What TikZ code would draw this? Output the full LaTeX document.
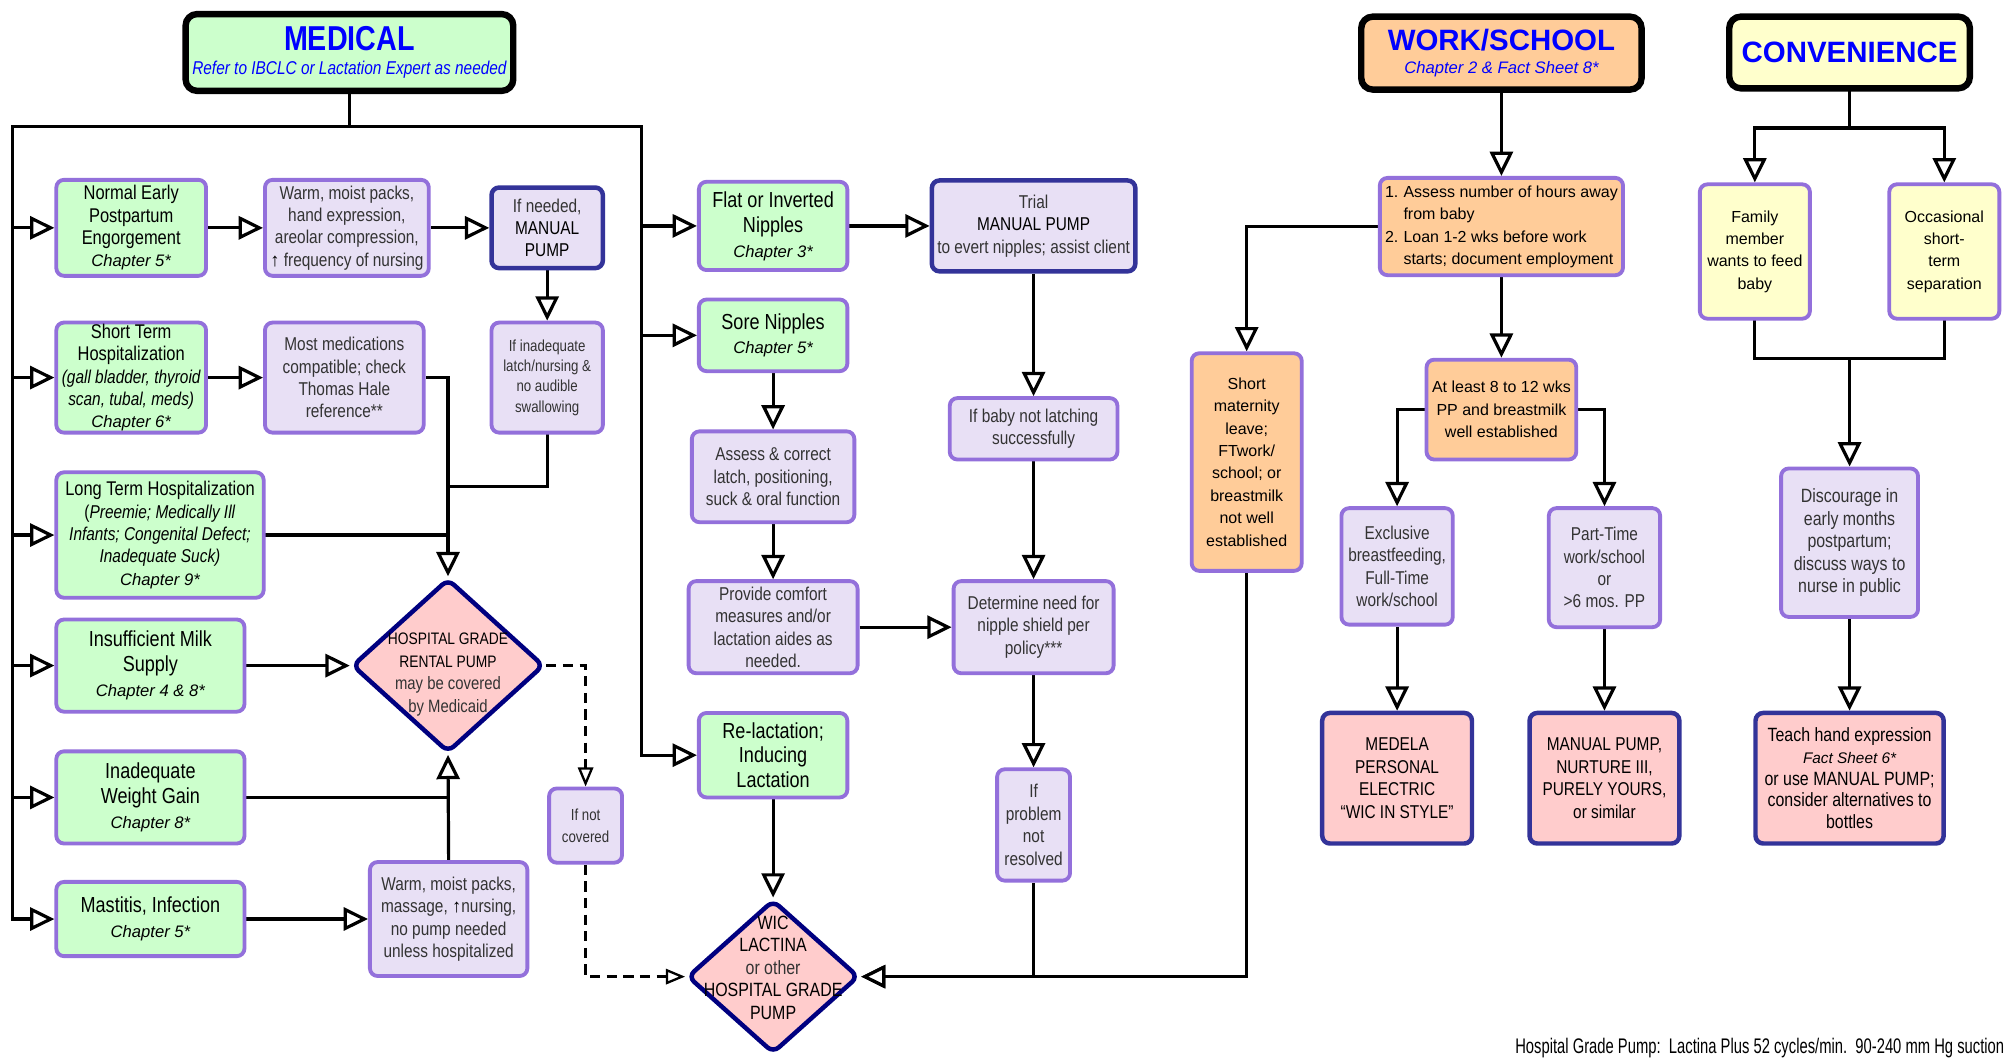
\documentclass[tikz,border=0pt]{standalone}
\usepackage{fontspec}
\setmainfont{Liberation Sans}
\newfontfamily\nar[FakeStretch=0.83]{Liberation Sans}
\newfontfamily\foot[FakeStretch=0.7]{Liberation Sans}
\usetikzlibrary{arrows.meta,shapes.geometric,backgrounds}
\definecolor{grn}{HTML}{CCFFCC}
\definecolor{lav}{HTML}{E8E0F5}
\definecolor{purp}{HTML}{9370DB}
\definecolor{navyb}{HTML}{333399}
\definecolor{dnavy}{HTML}{000080}
\definecolor{pnk}{HTML}{FFCCCC}
\definecolor{peach}{HTML}{FFCC99}
\definecolor{yel}{HTML}{FFFFCC}
\definecolor{txtg}{HTML}{333333}
\definecolor{hblue}{HTML}{0000FF}
\newcommand\chap[1]{{\rmfamily\itshape\fontsize{13}{15}\selectfont #1}}
\tikzset{
  sz/.style 2 args={minimum width=#1pt, minimum height=#2pt},
  box/.style={draw=purp, line width=3pt, rounded corners=6pt, align=center, inner sep=1pt,
    font=\nar\fontsize{14.5}{17.5}\selectfont},
  gbox/.style={box, fill=grn, text=black, font=\nar\fontsize{15.5}{17.5}\selectfont},
  bigg/.style={font=\nar\fontsize{17}{19.5}\selectfont},
  lbox/.style={box, fill=lav, text=txtg},
  nbox/.style={box, draw=navyb, line width=3.5pt, fill=lav, text=txtg},
  rbox/.style={box, draw=navyb, line width=3.5pt, fill=pnk, text=black},
  pbox/.style={box, fill=peach, text=black, font=\rmfamily\fontsize{12.5}{17.5}\selectfont},
  ybox/.style={box, fill=yel, text=black, font=\rmfamily\fontsize{12.5}{17.5}\selectfont},
  hdr/.style={draw=black, line width=5pt, rounded corners=9pt, align=center, inner sep=1pt},
  diam/.style={shape=diamond, draw=dnavy, line width=3.5pt, rounded corners=6pt, fill=pnk, inner sep=0pt},
  dtext/.style={align=center, inner sep=0pt, font=\nar\fontsize{14}{17.5}\selectfont, text=txtg},
  ln/.style={line width=2.5pt, draw=black, line cap=rect},
  arr/.style={line width=2.5pt, draw=black, -{Triangle[fill=white, length=19pt, width=18pt]}},
  dasharr/.style={line width=1.8pt, draw=black, dash pattern=on 8pt off 5pt,
    -{Triangle[fill=white, length=15pt, width=12pt]}},
}
\begin{document}
\begin{tikzpicture}[x=1pt,y=-1pt]
\useasboundingbox (0,0) rectangle (1568,826);

% ---------- headers
\node[hdr, fill=grn, sz={256}{60}, font=\nar\fontsize{14.5}{19}\selectfont] (medical) at (273,41)
  {{\bfseries\fontsize{27}{19}\selectfont\color{hblue}MEDICAL}\\
   {\itshape\color{hblue}Refer to IBCLC or Lactation Expert as needed}};
\node[hdr, fill=peach, sz={219}{57}, font=\fontsize{13}{18}\selectfont] (workschool) at (1173,41.5)
  {{\bfseries\fontsize{23}{18}\selectfont\color{hblue}WORK/SCHOOL}\\
   {\itshape\color{hblue}Chapter 2 \& Fact Sheet 8*}};
\node[hdr, fill=yel, sz={188}{56}] (convenience) at (1445,41)
  {{\bfseries\fontsize{23}{25}\selectfont\color{hblue}CONVENIENCE}};

% ---------- medical column 1
\node[gbox, sz={117}{75}] (n1) at (102.5,178) {Normal Early\\Postpartum\\Engorgement\\\chap{Chapter 5*}};
\node[gbox, sz={117}{86}] (n2) at (102.5,295) {Short Term\\Hospitalization\\{\itshape\fontsize{14.5}{17.5}\selectfont (gall bladder, thyroid}\\{\itshape\fontsize{14.5}{17.5}\selectfont scan, tubal, meds)}\\\chap{Chapter 6*}};
\node[gbox, sz={162}{98}] (n3) at (125,418) {Long Term Hospitalization\\{\fontsize{14.5}{17.5}\selectfont(\textit{Preemie; Medically Ill}}\\{\itshape\fontsize{14.5}{17.5}\selectfont Infants; Congenital Defect;}\\{\itshape\fontsize{14.5}{17.5}\selectfont Inadequate Suck)}\\\chap{Chapter 9*}};
\node[gbox, bigg, sz={147}{72}] (n4) at (117.5,520) {Insufficient Milk\\Supply\\\chap{Chapter 4 \& 8*}};
\node[gbox, bigg, sz={147}{72}] (n5) at (117.5,623) {Inadequate\\Weight Gain\\\chap{Chapter 8*}};
\node[gbox, bigg, sz={147}{58}] (n6) at (117.5,718) {Mastitis, Infection\\\chap{Chapter 5*}};

% ---------- medical column 2
\node[lbox, sz={128}{75}] (w1) at (271,178) {Warm, moist packs,\\hand expression,\\areolar compression,\\{\rmfamily\bfseries\textcolor{black}{↑}} frequency of nursing};
\node[nbox, sz={87}{63}] (mp1) at (427.5,178) {If needed,\\\textcolor{black}{MANUAL}\\\textcolor{black}{PUMP}};
\node[lbox, sz={87}{86}, font=\nar\fontsize{12.5}{16}\selectfont] (inad) at (427.5,295) {If inadequate\\latch/nursing \&\\no audible\\swallowing};
\node[lbox, sz={124}{86}] (meds) at (269,295) {Most medications\\compatible; check\\Thomas Hale\\reference**};
\node[diam, sz={150}{136}] (hosp) at (350,520) {};
\node[dtext] (hosptext) at (350,527) {{\color{black}\fontsize{13}{17.5}\selectfont HOSPITAL GRADE}\\{\color{black}\fontsize{13}{17.5}\selectfont RENTAL PUMP}\\may be covered\\by Medicaid};
\node[lbox, sz={123}{89}] (w2) at (350.5,718) {Warm, moist packs,\\massage, {\rmfamily\bfseries\textcolor{black}{↑}}nursing,\\no pump needed\\unless hospitalized};
\node[lbox, sz={57}{58}, font=\nar\fontsize{12.5}{17}\selectfont] (notcov) at (457.5,645) {If not\\covered};

% ---------- nipples column
\node[gbox, bigg, sz={116}{69}] (flat) at (604,176.5) {Flat or Inverted\\Nipples\\\chap{Chapter 3*}};
\node[gbox, bigg, sz={116}{56}] (sore) at (604,262) {Sore Nipples\\\chap{Chapter 5*}};
\node[gbox, bigg, sz={116}{66}] (relac) at (604,590) {Re-lactation;\\Inducing\\Lactation};
\node[lbox, sz={127}{71}] (assess) at (604,372.5) {Assess \& correct\\latch, positioning,\\suck \& oral function};
\node[lbox, sz={132}{72}] (comfort) at (604,490) {Provide comfort\\measures and/or\\lactation aides as\\needed.};
\node[diam, sz={134}{120}] (wic) at (604,763) {};
\node[dtext, font=\nar\fontsize{15}{17.5}\selectfont] (wictext) at (604,756) {\textcolor{black}{WIC}\\\textcolor{black}{LACTINA}\\or other\\\textcolor{black}{HOSPITAL GRADE}\\\textcolor{black}{PUMP}};

% ---------- trial column
\node[nbox, sz={159}{71}] (trial) at (807.5,176.5) {Trial\\\textcolor{black}{MANUAL PUMP}\\to evert nipples; assist client};
\node[lbox, sz={131}{48}] (baby) at (807.5,335) {If baby not latching\\successfully};
\node[lbox, sz={125}{72}] (determine) at (807.5,490) {Determine need for\\nipple shield per\\policy***};
\node[lbox, sz={57}{87}] (problem) at (807.5,644.5) {If\\problem\\not\\resolved};

% ---------- work / school
\node[pbox, sz={86}{170}] (shortmat) at (974,361) {Short\\maternity\\leave;\\FTwork/\\school; or\\breastmilk\\not well\\established};
\node[pbox, sz={190}{76}, align=left] (assessnum) at (1173,177)
  {\begin{tabular}{@{}l@{\hspace{4pt}}l@{}}1.&Assess number of hours away\\&from baby\\2.&Loan 1-2 wks before work\\&starts; document employment\end{tabular}};
\node[pbox, sz={117}{78}] (atleast) at (1173,320) {At least 8 to 12 wks\\PP and breastmilk\\well established};
\node[lbox, sz={87}{91}] (excl) at (1091.5,442.5) {Exclusive\\breastfeeding,\\Full-Time\\work/school};
\node[lbox, sz={87}{93}] (part) at (1253.5,443.5) {Part-Time\\work/school\\or\\>6 mos. PP};
\node[rbox, sz={117}{102}] (medela) at (1091.5,608) {MEDELA\\PERSONAL\\ELECTRIC\\“WIC IN STYLE”};
\node[rbox, sz={117}{102}] (manualp) at (1253.5,608) {MANUAL PUMP,\\NURTURE III,\\PURELY YOURS,\\or similar};

% ---------- convenience
\node[ybox, sz={86}{105}] (family) at (1371,196.5) {Family\\member\\wants to feed\\baby};
\node[ybox, sz={86}{105}] (occas) at (1519,196.5) {Occasional\\short-\\term\\separation};
\node[lbox, sz={107}{116}, font=\nar\fontsize{15}{17.5}\selectfont] (discourage) at (1445,424) {Discourage in\\early months\\postpartum;\\discuss ways to\\nurse in public};
\node[rbox, sz={147}{102}, font=\nar\fontsize{15}{17}\selectfont] (teach) at (1445,608) {Teach hand expression\\{\rmfamily\itshape\fontsize{12}{15}\selectfont Fact Sheet 6*}\\or use MANUAL PUMP;\\consider alternatives to\\bottles};

% ---------- footer
\node[anchor=base east, inner sep=0pt, font=\foot\fontsize{16.5}{19}\selectfont] (footer) at (1566,823)
  {Hospital Grade Pump:\ \ Lactina Plus 52 cycles/min.\ \ 90-240 mm Hg suction};

% ---------- connectors
\begin{scope}[on background layer]
\fill[white] (0,0) rectangle (1568,826);
\coordinate (busL) at (10,99);
\coordinate (busR) at (501,99);
\coordinate (mtop) at (273,99);
\coordinate (j1) at (350,380);
\coordinate (cj1) at (1445,100);
\coordinate (cj2) at (1445,280);
\draw[ln] (medical.south) -- (mtop);
\draw[ln] (n6.west -| busL) -- (busL) -- (busR) -- (relac.west -| busR);
\foreach \n in {n1,n2,n3,n4,n5,n6} \draw[arr] (\n.west -| busL) -- (\n.west);
\foreach \n in {flat,sore,relac} \draw[arr] (\n.west -| busR) -- (\n.west);
\draw[arr] (n1.east) -- (w1.west);
\draw[arr] (w1.east) -- (mp1.west);
\draw[arr] (mp1.south) -- (inad.north);
\draw[arr] (n2.east) -- (meds.west);
\draw[arr] (meds.east) -| (hosp.north);
\draw[ln] (inad.south) |- (j1);
\draw[ln] (n3.east) -- (n3.east -| hosp.north);
\draw[arr] (n4.east) -- (hosp.west);
\draw[ln] (n5.east) -- (n5.east -| hosp.south);
\draw[arr] (w2.north) -- (hosp.south);
\draw[arr] (n6.east) -- (w2.west);
\draw[dasharr] (hosp.east) -| (notcov.north);
\draw[dasharr] (notcov.south) |- (wic.west);
\draw[arr] (relac.south) -- (wic.north);
\draw[arr] (flat.east) -- (trial.west);
\draw[arr] (trial.south) -- (baby.north);
\draw[arr] (baby.south) -- (determine.north);
\draw[arr] (determine.south) -- (problem.north);
\draw[arr] (sore.south) -- (assess.north);
\draw[arr] (assess.south) -- (comfort.north);
\draw[arr] (comfort.east) -- (determine.west);
\draw[arr] (shortmat.south) |- (wic.east);
\draw[arr] (problem.south) |- (wic.east);
\draw[arr] (workschool.south) -- (assessnum.north);
\draw[arr] (assessnum.west) -| (shortmat.north);
\draw[arr] (assessnum.south) -- (atleast.north);
\draw[arr] (atleast.west) -| (excl.north);
\draw[arr] (atleast.east) -| (part.north);
\draw[arr] (excl.south) -- (medela.north);
\draw[arr] (part.south) -- (manualp.north);
\draw[ln] (convenience.south) -- (cj1);
\draw[ln] (cj1 -| family.north) -- (cj1 -| occas.north);
\draw[arr] (cj1 -| family.north) -- (family.north);
\draw[arr] (cj1 -| occas.north) -- (occas.north);
\draw[ln] (family.south) |- (cj2) -| (occas.south);
\draw[arr] (cj2) -- (discourage.north);
\draw[arr] (discourage.south) -- (teach.north);
\end{scope}
\end{tikzpicture}
\end{document}
